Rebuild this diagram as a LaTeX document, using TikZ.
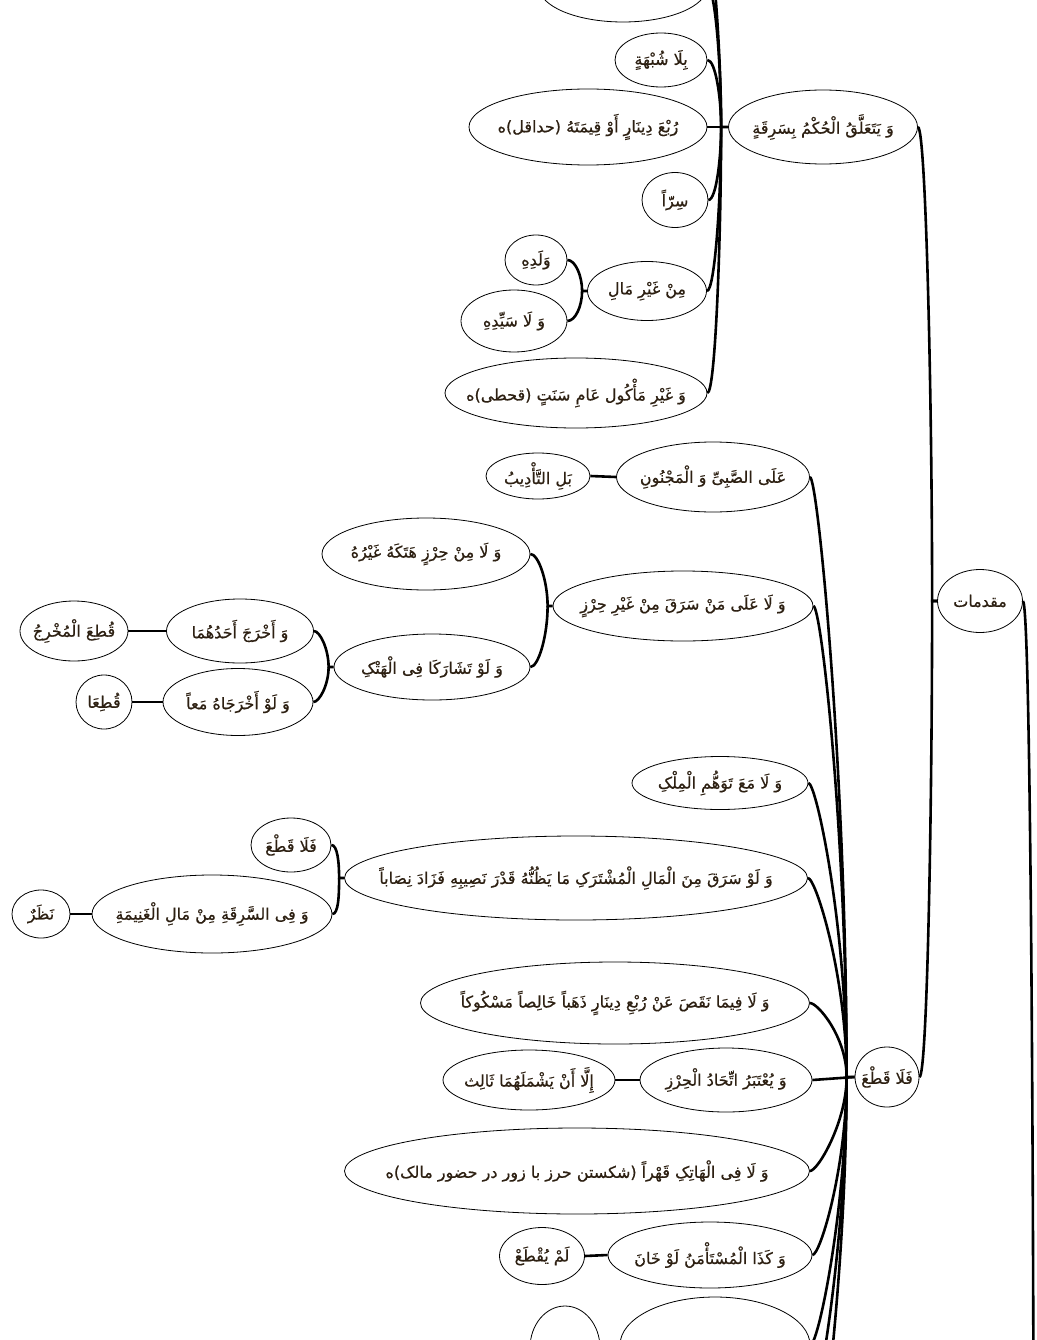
\documentclass[tikz,border=0pt]{standalone}
\usepackage{fontspec}
\usetikzlibrary{positioning, shapes}
\TeXXeTstate=1
\newfontfamily\arabicfont[Script=Arabic, FakeBold=0.6]{DejaVu Sans}
\definecolor{inkbrown}{RGB}{45,32,18}
\newcommand{\artext}[1]{\makebox[0pt]{\arabicfont\beginR #1\endR}}

\begin{document}
\begin{tikzpicture}[
    x=1pt, y=-1pt,
    topic/.style={ellipse, draw, line width=0.8pt, inner sep=0pt, text=inkbrown,
                  font=\fontsize{16}{18}\selectfont},
    dims/.style 2 args={minimum width=#1pt, minimum height=#2pt},
    link/.style={line width=2.6pt}
    ]
    \fill[white] (0,0) rectangle (1036,1340);
    \useasboundingbox (0,0) rectangle (1036,1340);
    \clip (0,0) rectangle (1036,1340);

    % Main topics
    \node[topic, dims={85}{63}] (muqaddamat) at (980,601) {\artext{مقدمات}};
    \node[topic, dims={189}{74}] (sariqa) at (823,127) {\artext{وَ یَتَعَلَّقُ الْحُکْمُ بِسَرِقَةٍ}};
    \node[topic, dims={64}{60}] (laqat) at (887,1077) {\artext{فَلَا قَطْعَ}};

    % Conditions of theft
    \node[topic, dims={168}{70}] (toppart) at (623,-13) {};
    \coordinate (offtop) at (702,-90);
    \node[topic, dims={92}{54}] (shubha) at (661,60) {\artext{بِلَا شُبْهَةٍ}};
    \node[topic, dims={238}{76}] (rub) at (588,127) {\artext{رُبْعَ دِینَارٍ أَوْ قِیمَتَهُ (حداقل)ه}};
    \node[topic, dims={66}{55}] (sirran) at (675,200) {\artext{سِرّاً}};
    \node[topic, dims={119}{59}] (ghayr) at (647,291) {\artext{مِنْ غَیْرِ مَالِ}};
    \node[topic, dims={62}{50}] (waladihi) at (536,260) {\artext{وَلَدِهِ}};
    \node[topic, dims={106}{62}] (sayyidihi) at (514,321) {\artext{وَ لَا سَیِّدِهِ}};
    \node[topic, dims={262}{70}] (makul) at (576,393) {\artext{وَ غَیْرِ مَأْکُول عَامِ سَنَتٍ (قحطی)ه}};

    % No cutting
    \node[topic, dims={193}{70}] (sabi) at (713,477) {\artext{عَلَی الصَّبِیِّ وَ الْمَجْنُونِ}};
    \node[topic, dims={104}{46}] (tadib) at (538,476) {\artext{بَلِ التَّأْدِیبُ}};
    \node[topic, dims={260}{70}] (hirz) at (683,606) {\artext{وَ لَا عَلَی مَنْ سَرَقَ مِنْ غَیْرِ حِرْزٍ}};
    \node[topic, dims={208}{72}] (hataka) at (426,554) {\artext{وَ لَا مِنْ حِرْزٍ هَتَکَهُ غَیْرُهُ}};
    \node[topic, dims={196}{66}] (tasharaka) at (432,667) {\artext{وَ لَوْ تَشَارَکَا فِی الْهَتْکِ}};
    \node[topic, dims={147}{64}] (akhraja) at (240,631) {\artext{وَ أَخْرَجَ أَحَدُهُمَا}};
    \node[topic, dims={108}{60}] (qutiamukhrij) at (74,631) {\artext{قُطِعَ الْمُخْرِجُ}};
    \node[topic, dims={150}{67}] (akhrajahu) at (238,702) {\artext{وَ لَوْ أَخْرَجَاهُ مَعاً}};
    \node[topic, dims={56}{54}] (qutia) at (104,702) {\artext{قُطِعَا}};
    \node[topic, dims={176}{53}] (tawahhum) at (720,783) {\artext{وَ لَا مَعَ تَوَهُّمِ الْمِلْکِ}};
    \node[topic, dims={463}{84}] (mushtarak) at (576,878) {\artext{وَ لَوْ سَرَقَ مِنَ الْمَالِ الْمُشْتَرَکِ مَا یَظُنُّهُ قَدْرَ نَصِیبِهِ فَزَادَ نِصَاباً}};
    \node[topic, dims={80}{54}] (falaqat) at (291,845) {\artext{فَلَا قَطْعَ}};
    \node[topic, dims={240}{78}] (ghanima) at (212,914) {\artext{وَ فِی السَّرِقَةِ مِنْ مَالِ الْغَنِیمَةِ}};
    \node[topic, dims={58}{48}] (nazar) at (41,914) {\artext{نَظَرٌ}};
    \node[topic, dims={389}{82}] (naqasa) at (615,1003) {\artext{وَ لَا فِیمَا نَقَصَ عَنْ رُبْعِ دِینَارٍ ذَهَباً خَالِصاً مَسْکُوکاً}};
    \node[topic, dims={172}{64}] (ittihad) at (726,1080) {\artext{وَ یُعْتَبَرُ اتِّحَادُ الْحِرْزِ}};
    \node[topic, dims={172}{60}] (illa) at (529,1080) {\artext{إِلَّا أَنْ یَشْمَلَهُمَا ثَالِث}};
    \node[topic, dims={465}{86}] (hatik) at (577,1171) {\artext{وَ لَا فِی الْهَاتِکِ قَهْراً (شکستن حرز با زور در حضور مالک)ه}};
    \node[topic, dims={204}{66}] (mustamin) at (710,1255) {\artext{وَ کَذَا الْمُسْتَأْمَنُ لَوْ خَانَ}};
    \node[topic, dims={85}{57}] (lamyuqta) at (542,1256) {\artext{لَمْ یُقْطَعْ}};
    \node[topic, dims={190}{96}] (botpart) at (715,1345) {};
    \node[topic, dims={70}{84}] (smallpart) at (565,1348) {};
    \coordinate (offbottomA) at (805,1430);
    \coordinate (offbottomB) at (805,1520);
    \coordinate (root) at (1034,1800);

    % Hubs where branches meet
    \coordinate (muqhub) at ([xshift=-5pt]muqaddamat.west);
    \coordinate (sariqahub) at ([xshift=-7pt]sariqa.west);
    \coordinate (ghayrhub) at ([xshift=-5pt]ghayr.west);
    \coordinate (laqathub) at ([xshift=-8pt]laqat.west);
    \coordinate (hirzhub) at ([xshift=-5pt]hirz.west);
    \coordinate (tasharakahub) at ([xshift=-5pt]tasharaka.west);
    \coordinate (mushtarakhub) at ([xshift=-5pt]mushtarak.west);

    % Branches
    \draw[link] (muqaddamat.east) .. controls +(8,0) and +(0,-600) .. (root);
    \draw[link] (sariqa.east) .. controls +(8,0) and +(0,-200) .. (muqhub) -- (muqaddamat.west);
    \draw[link] (laqat.east) .. controls +(8,0) and +(0,200) .. (muqhub) -- (muqaddamat.west);

    \draw[link] (toppart.east) .. controls +(8,0) and +(0,-60) .. (sariqahub) -- (sariqa.west);
    \draw[link] (offtop) .. controls +(8,0) and +(0,-90) .. (sariqahub);
    \draw[link] (shubha.east) .. controls +(8,0) and +(0,-30) .. (sariqahub);
    \draw[link] (rub.east) -- (sariqa.west);
    \draw[link] (sirran.east) .. controls +(8,0) and +(0,30) .. (sariqahub);
    \draw[link] (ghayr.east) .. controls +(8,0) and +(0,70) .. (sariqahub);
    \draw[link] (makul.east) .. controls +(8,0) and +(0,110) .. (sariqahub);

    \draw[link] (waladihi.east) .. controls +(8,0) and +(0,-15) .. (ghayrhub) -- (ghayr.west);
    \draw[link] (sayyidihi.east) .. controls +(8,0) and +(0,15) .. (ghayrhub);

    \draw[link] (sabi.east) .. controls +(8,0) and +(0,-300) .. (laqathub) -- (laqat.west);
    \draw[link] (hirz.east) .. controls +(8,0) and +(0,-240) .. (laqathub);
    \draw[link] (tawahhum.east) .. controls +(8,0) and +(0,-150) .. (laqathub);
    \draw[link] (mushtarak.east) .. controls +(8,0) and +(0,-100) .. (laqathub);
    \draw[link] (naqasa.east) .. controls +(8,0) and +(0,-40) .. (laqathub);
    \draw[link] (ittihad.east) -- (laqat.west);
    \draw[link] (hatik.east) .. controls +(8,0) and +(0,45) .. (laqathub);
    \draw[link] (mustamin.east) .. controls +(8,0) and +(0,90) .. (laqathub);
    \draw[link] (botpart.east) .. controls +(8,0) and +(0,130) .. (laqathub);
    \draw[link] (offbottomA) .. controls +(10,0) and +(0,170) .. (laqathub);
    \draw[link] (offbottomB) .. controls +(10,0) and +(0,210) .. (laqathub);

    \draw[link] (hataka.east) .. controls +(8,0) and +(0,-25) .. (hirzhub) -- (hirz.west);
    \draw[link] (tasharaka.east) .. controls +(8,0) and +(0,30) .. (hirzhub);
    \draw[link] (akhraja.east) .. controls +(6,0) and +(0,-18) .. (tasharakahub) -- (tasharaka.west);
    \draw[link] (akhrajahu.east) .. controls +(6,0) and +(0,18) .. (tasharakahub);
    \draw[link] (falaqat.east) .. controls +(6,0) and +(0,-16) .. (mushtarakhub) -- (mushtarak.west);
    \draw[link] (ghanima.east) .. controls +(6,0) and +(0,18) .. (mushtarakhub);

    % Single follow-ups
    \draw[link] (tadib.east) -- (sabi.west);
    \draw[link] (qutiamukhrij.east) -- (akhraja.west);
    \draw[link] (qutia.east) -- (akhrajahu.west);
    \draw[link] (nazar.east) -- (ghanima.west);
    \draw[link] (illa.east) -- (ittihad.west);
    \draw[link] (lamyuqta.east) -- (mustamin.west);
    \draw[link] (smallpart.east) -- (botpart.west);
\end{tikzpicture}
\end{document}
